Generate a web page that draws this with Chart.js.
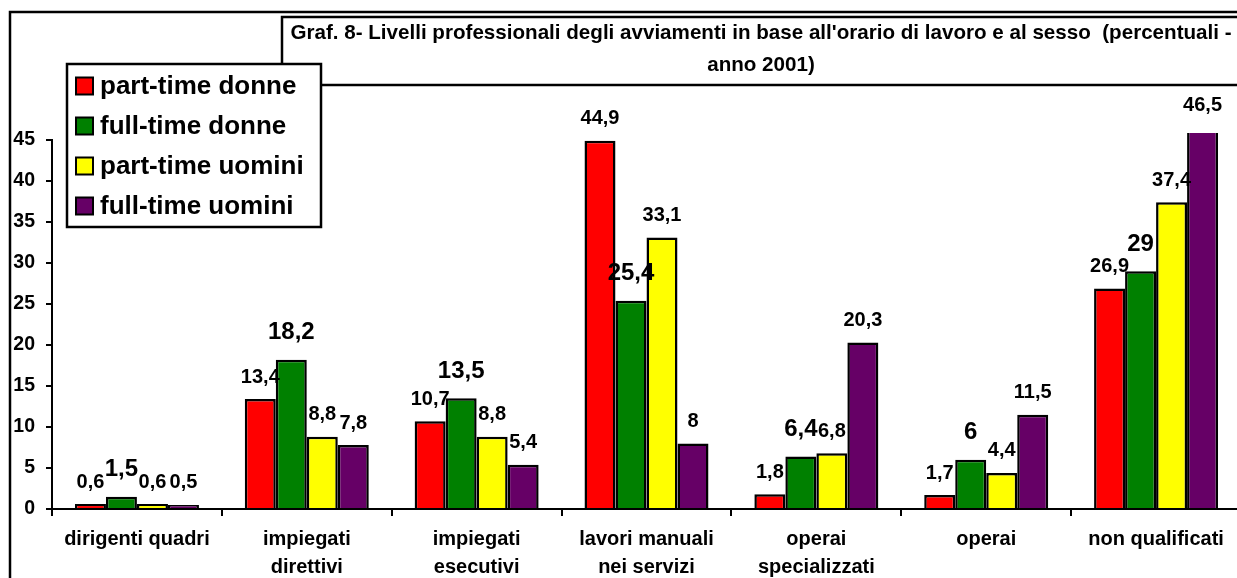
<!DOCTYPE html>
<html><head><meta charset="utf-8">
<script src="https://cdn.jsdelivr.net/npm/chart.js@4"></script>
<style>
html,body{margin:0;padding:0;background:#fff;overflow:hidden;width:1237px;height:578px;}
canvas{display:block;}
</style></head>
<body><canvas id="c" width="1260" height="600"></canvas>
<script>
// ---- data ----
const categories = ['dirigenti quadri', ['impiegati', 'direttivi'], ['impiegati', 'esecutivi'], ['lavori manuali', 'nei servizi'], ['operai', 'specializzati'], 'operai', 'non qualificati'];
const seriesNames = ['part-time donne', 'full-time donne', 'part-time uomini', 'full-time uomini'];
const partTimeDonne = [0.6, 13.4, 10.7, 44.9, 1.8, 1.7, 26.9];
const fullTimeDonne = [1.5, 18.2, 13.5, 25.4, 6.4, 6, 29];
const partTimeUomini = [0.6, 8.8, 8.8, 33.1, 6.8, 4.4, 37.4];
const fullTimeUomini = [0.5, 7.8, 5.4, 8, 20.3, 11.5, 46.5];
const yTicks = [0, 5, 10, 15, 20, 25, 30, 35, 40, 45];
const titleLines = ["Graf. 8- Livelli professionali degli avviamenti in base all'orario di lavoro e al sesso  (percentuali -", "anno 2001)"];

// ---- styling ----
const FONT = "'Liberation Sans', Arial, Helvetica, sans-serif";
const colors = ['#FF0000', '#008000', '#FFFF00', '#660066'];
Chart.defaults.font.family = FONT;
Chart.defaults.color = '#000';

const seriesValues = [partTimeDonne, fullTimeDonne, partTimeUomini, fullTimeUomini];
const datasets = seriesNames.map((name, i) => ({
  label: name,
  data: seriesValues[i],
  backgroundColor: colors[i],
  borderColor: '#000',
  borderWidth: 2.5,
  borderSkipped: 'bottom',
  inflateAmount: 0,
  categoryPercentage: 0.73,
  barPercentage: 1.0,
  clip: {left: 0, top: 7, right: 0, bottom: 0}
}));

const fmt = v => String(v).replace('.', ',');

const framePlugin = {
  id: 'frame',
  beforeDraw(chart) {
    const ctx = chart.ctx;
    ctx.save();
    ctx.strokeStyle = '#000';
    ctx.lineWidth = 2.5;
    ctx.strokeRect(10, 12, 1400, 800);
    ctx.fillStyle = '#fff';
    ctx.fillRect(282, 17, 1100, 68);
    ctx.strokeRect(282, 17, 1100, 68);
    ctx.fillStyle = '#000';
    ctx.font = 'bold 20.6px ' + FONT;
    ctx.textAlign = 'center';
    ctx.textBaseline = 'middle';
    ctx.fillText(titleLines[0], 761, 33);
    ctx.fillText(titleLines[1], 761, 65);
    ctx.restore();
  }
};

const labelPlugin = {
  id: 'valueLabels',
  afterDatasetsDraw(chart) {
    const ctx = chart.ctx;
    const yScale = chart.scales.y;
    ctx.save();
    ctx.fillStyle = '#000';
    ctx.textAlign = 'center';
    ctx.textBaseline = 'middle';
    chart.data.datasets.forEach((ds, di) => {
      const meta = chart.getDatasetMeta(di);
      const big = di === 1;
      ctx.font = 'bold ' + (big ? 24 : 20) + 'px ' + FONT;
      const off = big ? 27 : 22;
      meta.data.forEach((el, j) => {
        const v = ds.data[j];
        const top = yScale.getPixelForValue(v);
        ctx.fillText(fmt(v), el.x, top - off);
      });
    });
    ctx.restore();
  }
};

const legendPlugin = {
  id: 'boxLegend',
  afterDraw(chart) {
    const ctx = chart.ctx;
    ctx.save();
    ctx.fillStyle = '#fff';
    ctx.fillRect(67, 64, 254, 163);
    ctx.strokeStyle = '#000';
    ctx.lineWidth = 2.5;
    ctx.strokeRect(67, 64, 254, 163);
    ctx.font = 'bold 26px ' + FONT;
    ctx.textAlign = 'left';
    ctx.textBaseline = 'middle';
    chart.data.datasets.forEach((ds, i) => {
      const cy = 86 + i * 40;
      ctx.fillStyle = ds.backgroundColor;
      ctx.fillRect(76, cy - 8.5, 17, 17);
      ctx.lineWidth = 2;
      ctx.strokeRect(76, cy - 8.5, 17, 17);
      ctx.fillStyle = '#000';
      ctx.fillText(ds.label, 100, cy + 1);
    });
    ctx.restore();
  }
};

new Chart(document.getElementById('c'), {
  type: 'bar',
  data: {labels: categories, datasets: datasets},
  options: {
    responsive: false,
    animation: false,
    devicePixelRatio: 1,
    layout: {padding: {top: 140, right: 19, bottom: 0, left: 0}},
    plugins: {legend: {display: false}, title: {display: false}, tooltip: {enabled: false}},
    scales: {
      x: {
        z: 1,
        offset: true,
        grid: {offset: true, display: true, drawOnChartArea: false, drawTicks: true, tickLength: 7, color: '#000', lineWidth: 2},
        border: {display: true, color: '#000', width: 2},
        ticks: {color: '#000', font: {size: 20, weight: 'bold', lineHeight: 1.38}, padding: 10, maxRotation: 0, autoSkip: false},
        afterFit(s) { s.height = 91; }
      },
      y: {
        min: 0, max: 45,
        afterBuildTicks(s) { s.ticks = yTicks.map(v => ({value: v})); },
        ticks: {color: '#000', font: {size: 19.5, weight: 'bold'}, padding: 11},
        grid: {display: true, drawOnChartArea: false, drawTicks: true, tickLength: 6, color: '#000', lineWidth: 2},
        border: {display: true, color: '#000', width: 2},
        afterFit(s) { s.width = 52; }
      }
    }
  },
  plugins: [framePlugin, labelPlugin, legendPlugin]
});
</script>
</body></html>
